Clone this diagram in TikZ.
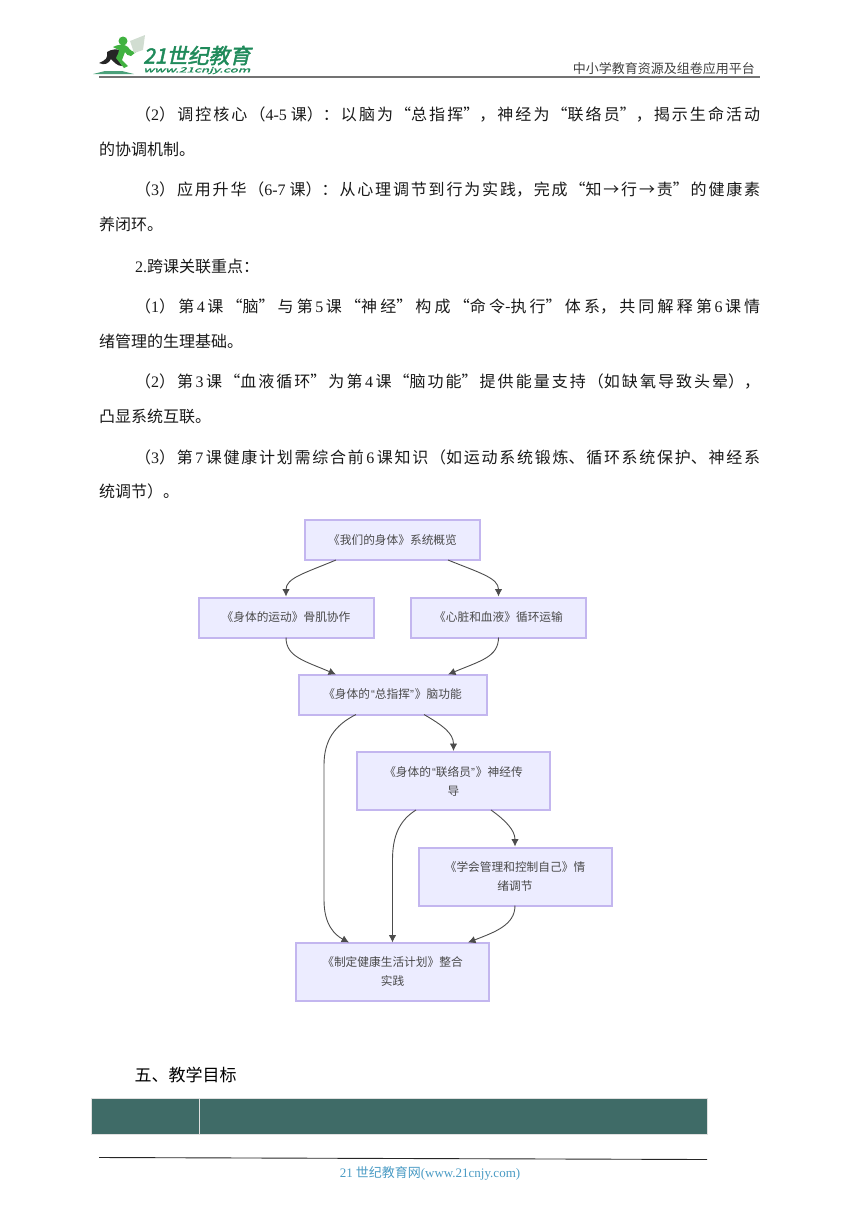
\documentclass[tikz,border=0pt]{standalone}
\usepackage{fontspec}
\usetikzlibrary{arrows.meta}
\setmainfont{Noto Sans CJK SC}
\newfontfamily\serifl{Liberation Serif}
\newfontfamily\sansl{Liberation Sans}
\newfontfamily\logofont{Noto Sans CJK SC}[FakeSlant=0.22,FakeBold=2.2]
\XeTeXlinebreaklocale "zh"
\XeTeXlinebreakskip=0pt plus 8pt minus 1pt
\definecolor{flowfill}{HTML}{ECECFF}
\definecolor{flowline}{HTML}{C3B6EF}
\definecolor{flowtext}{HTML}{4A4A4A}
\definecolor{bartop}{HTML}{3F6B67}
\definecolor{linkblue}{HTML}{4A9BC4}
\definecolor{logogreen}{HTML}{1F8A5A}
\tikzset{
 x=1pt,y=-1pt,
 bodyline/.style={anchor=west,inner sep=0pt,font=\fontsize{16}{16}\selectfont,text=black!90},
 flowbox/.style={draw=flowline,fill=flowfill,line width=2pt,inner sep=0pt,align=center,text=flowtext,font=\fontsize{11.7}{19}\selectfont},
 flowedge/.style={draw=black!70,line width=.9pt,-{Latex[length=7.5pt,width=7.5pt]}},
}
\newcommand{\sd}[1]{{\serifl #1}}
\newcommand{\dg}[1]{\kern2.5pt{\serifl #1}\kern2.5pt}
\newcommand{\nq}[1]{\kern1pt{\sansl “}#1{\sansl ”}\kern1pt}
\newcommand{\lp}{\char"FF08\relax}
\newcommand{\rp}{\char"FF09\relax}
\newcommand{\cm}{\char"FF0C\relax}
\newcommand{\cn}{\char"FF1A\relax}
\newcommand{\bl}[4]{\node[bodyline] (#1) at (#2) {\parbox{#3pt}{\parindent=0pt\parfillskip=0pt\leavevmode #4}};}
\begin{document}
\begin{tikzpicture}
\useasboundingbox (0,0) rectangle (860,1216);
% header
\node[inner sep=0pt,anchor=west,font=\fontsize{21}{21}\selectfont\logofont,text=logogreen] (logo) at (143,55.5) {21世纪教育};
\node[inner sep=0pt,anchor=west,font=\logofont,text=logogreen] (logourl) at (143,70.5) {\resizebox{107pt}{5.5pt}{www.21cnjy.com}};
\fill[logogreen!80] (93,74) -- (134,74) -- (122,71) -- (105,71) -- cycle;
\fill[black!85] (99,63) .. controls (106,60) and (108,58) .. (107,52) .. controls (112,49) and (116,49) .. (120,50) .. controls (117,56) and (118,60) .. (122,66) .. controls (117,66) and (114,62) .. (111,59) .. controls (109,63) and (105,66) .. (99,63) -- cycle;
\fill[green!60!black!75] (123,41) circle (4.5);
\fill[green!60!black!75] (113,47) .. controls (118,44) and (125,44) .. (128,47) .. controls (130,50) and (132,52) .. (136,52) -- (131,56) .. controls (128,56) and (126,54) .. (125,52) -- (122,60) -- (128,66) -- (124,68) -- (116,58) .. controls (118,54) and (119,52) .. (119,50) -- cycle;
\fill[green!25!black!18] (130,41) -- (145,35) -- (143,50) -- (134,53) -- cycle;
\coordinate (hl) at (99,76.5); \coordinate (hr) at (760,76.5);
\draw[black!55,line width=2pt] (hl) -- (hr);
\node[inner sep=0pt,anchor=east,font=\fontsize{13}{13}\selectfont,text=black!75] (plat) at (755,68.5) {中小学教育资源及组卷应用平台};
% body
\bl{l1}{135,115}{625}{\lp\sd{2}\rp 调控核心\lp\sd{4-5}\kern4pt 课\rp\cn 以脑为“总指挥”\cm 神经为“联络员”\cm 揭示生命活动}
\node[bodyline] (l2) at (99,149.5) {的协调机制。};
\bl{l3}{135,190}{625}{\lp\sd{3}\rp 应用升华\lp\sd{6-7}\kern4pt 课\rp\cn 从心理调节到行为实践\cm 完成“知→行→责”的健康素}
\node[bodyline] (l4) at (99,224.5) {养闭环。};
\node[bodyline] (l5) at (135,266) {\sd{2.}跨课关联重点\cn};
\bl{l6}{135,307}{625}{\lp\sd{1}\rp 第\dg{4}课“脑”与第\dg{5}课“神经”构成“命令-执行”体系\cm 共同解释第\dg{6}课情}
\node[bodyline] (l7) at (99,341.5) {绪管理的生理基础。};
\bl{l8}{135,382}{625}{\lp\sd{2}\rp 第\dg{3}课“血液循环”为第\dg{4}课“脑功能”提供能量支持\lp 如缺氧导致头晕\rp\cm}
\node[bodyline] (l9) at (99,416.5) {凸显系统互联。};
\bl{l10}{135,457}{625}{\lp\sd{3}\rp 第\dg{7}课健康计划需综合前\dg{6}课知识\lp 如运动系统锻炼、循环系统保护、神经系}
\node[bodyline] (l11) at (99,491.5) {统调节\rp。};
% flowchart
\node[flowbox,minimum width=175pt,minimum height=40pt] (a) at (392.5,540) {《我们的身体》系统概览};
\node[flowbox,minimum width=175pt,minimum height=40pt] (b) at (286,617.5) {《身体的运动》骨肌协作};
\node[flowbox,minimum width=175pt,minimum height=40pt] (c) at (498.5,617.5) {《心脏和血液》循环运输};
\node[flowbox,minimum width=188pt,minimum height=40pt] (d) at (392.5,694.5) {《身体的\nq{总指挥}》脑功能};
\node[flowbox,minimum width=193pt,minimum height=58pt] (e) at (453.5,781) {《身体的\nq{联络员}》神经传\\导};
\node[flowbox,minimum width=193pt,minimum height=58pt] (f) at (515,876.5) {《学会管理和控制自己》情\\绪调节};
\node[flowbox,minimum width=193pt,minimum height=58pt] (g) at (392.5,971.5) {《制定健康生活计划》整合\\实践};
\coordinate (a1) at (336,560); \coordinate (a2) at (448,560);
\coordinate (b1) at (286,637.5); \coordinate (c1) at (498.5,637.5);
\coordinate (d1) at (336,674.5); \coordinate (d2) at (448,674.5);
\coordinate (d3) at (356,714.5); \coordinate (d4) at (424,714.5);
\coordinate (e1) at (416,810); \coordinate (e2) at (491,810);
\coordinate (f1) at (515,905.5);
\coordinate (g1) at (349,942.5); \coordinate (g2) at (392.5,942.5); \coordinate (g3) at (468,942.5);
\draw[flowedge] (a1) .. controls (305,573) and (286,578) .. (b.north);
\draw[flowedge] (a2) .. controls (480,573) and (498.5,578) .. (c.north);
\draw[flowedge] (b1) .. controls (286,657) and (305,661) .. (d1);
\draw[flowedge] (c1) .. controls (498.5,657) and (480,661) .. (d2);
\draw[flowedge] (d3) .. controls (335,725) and (324,740) .. (324,765) -- (324,900) .. controls (324,925) and (335,935) .. (g1);
\draw[flowedge] (d4) .. controls (442,725) and (453.5,733) .. (e.north);
\draw[flowedge] (e1) .. controls (400,820) and (392.5,835) .. (392.5,860) -- (g2);
\draw[flowedge] (e2) .. controls (505,820) and (515,830) .. (f.north);
\draw[flowedge] (f1) .. controls (515,925) and (495,932) .. (g3);
% section heading
\node[bodyline,font=\fontsize{17}{17}\selectfont,text=black] (h5) at (134.5,1075) {五、教学目标};
% table header
\node[draw=black!12,fill=bartop,line width=.7pt,minimum width=108.5pt,minimum height=36pt,inner sep=0pt,anchor=north west] (t1) at (90.5,1097.5) {};
\node[draw=black!12,fill=bartop,line width=.7pt,minimum width=508pt,minimum height=36pt,inner sep=0pt,anchor=north west] (t2) at (199,1097.5) {};
% footer
\coordinate (fl) at (99,1157.5); \coordinate (fr) at (707,1159.5);
\draw[black!85,line width=.9pt] (fl) -- (fr);
\node[inner sep=0pt,font=\fontsize{13}{13}\selectfont,text=linkblue] (foot) at (430,1173) {\sd{21}\kern3pt 世纪教育网\sd{(www.21cnjy.com)}};
\end{tikzpicture}
\end{document}
